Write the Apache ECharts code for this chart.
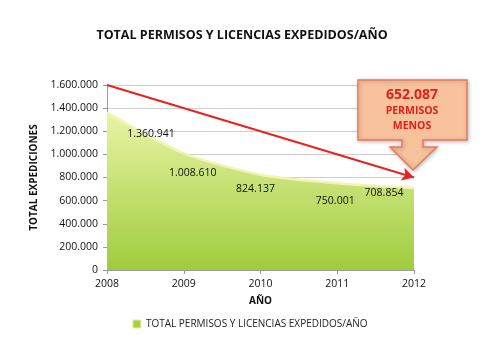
<!DOCTYPE html>
<html><head><meta charset="utf-8">
<script src="https://cdn.jsdelivr.net/npm/echarts@6/dist/echarts.min.js"></script>
<style>html,body{margin:0;padding:0;background:#fff}#c{width:500px;height:362px}</style>
</head><body><div id="c"></div>
<script>
const years = ['2008','2009','2010','2011','2012'];
const totals = [1360941, 1008610, 824137, 750001, 708854];
const yTicks = [0, 200000, 400000, 600000, 800000, 1000000, 1200000, 1400000, 1600000];
const trendStart = ['2008', 1600000];
const trendEnd = ['2012', 800000];
const calloutValue = '652.087';
const calloutLines = ['PERMISOS', 'MENOS'];
const seriesName = 'TOTAL PERMISOS Y LICENCIAS EXPEDIDOS/AÑO';

const fmt = v => String(v).replace(/\B(?=(\d{3})+(?!\d))/g, '.');
const labelOffsets = [[44, 21], [9, 20], [-5, 14], [-2, 18], [-30, 5]];
const FONT = '"Open Sans", "Liberation Sans", sans-serif';

const chart = echarts.init(document.getElementById('c'));
chart.setOption({
  animation: false,
  title: {
    text: seriesName, left: 237, top: 24, textAlign: 'center',
    textStyle: { fontFamily: FONT, fontSize: 12.5, fontWeight: 'bold', color: '#111' }
  },
  legend: {
    bottom: 28, left: 'center', itemWidth: 8, itemHeight: 8, itemGap: 4,
    icon: 'rect',
    textStyle: { fontFamily: FONT, fontSize: 10, color: '#222' },
    data: [{ name: seriesName, itemStyle: { color: '#a6cf4a', borderColor: '#e8f0a0', borderWidth: 1 } }]
  },
  grid: { left: 107, right: 86, top: 85, bottom: 92 },
  xAxis: {
    type: 'category', data: years, boundaryGap: false,
    name: 'AÑO', nameLocation: 'middle', nameGap: 26,
    nameTextStyle: { fontFamily: FONT, fontSize: 10, fontWeight: 'bold', color: '#111' },
    axisLine: { lineStyle: { color: '#9a9a9a' } },
    axisTick: { show: true, length: 4, lineStyle: { color: '#9a9a9a' } },
    axisLabel: { fontFamily: FONT, fontSize: 10.5, color: '#111', margin: 9 }
  },
  yAxis: {
    type: 'value', min: 0, max: 1600000, interval: 200000,
    name: 'TOTAL EXPEDICIONES', nameLocation: 'middle', nameGap: 57, nameRotate: 90,
    nameTextStyle: { fontFamily: FONT, fontSize: 10, fontWeight: 'bold', color: '#111' },
    axisLine: { show: true, lineStyle: { color: '#9a9a9a' } },
    axisTick: { show: true, length: 4, lineStyle: { color: '#9a9a9a' } },
    splitLine: { lineStyle: { color: '#cfcfcf' } },
    axisLabel: { fontFamily: FONT, fontSize: 10.5, color: '#111', margin: 9, formatter: v => fmt(v) }
  },
  series: [{
    name: seriesName, type: 'line', smooth: 0.25, symbol: 'circle', symbolSize: 0, showSymbol: true,
    data: totals.map((v, i) => ({
      value: v,
      label: { offset: labelOffsets[i] }
    })),
    label: {
      show: true, position: 'inside', formatter: p => fmt(p.value),
      fontFamily: FONT, fontSize: 10.5, color: '#111'
    },
    lineStyle: { color: '#f2f4b4', width: 2.5 },
    itemStyle: { color: '#a6cf4a' },
    areaStyle: {
      opacity: 1,
      color: new echarts.graphic.LinearGradient(0, 0, 0, 1, [
        { offset: 0, color: '#e8f4a4' },
        { offset: 1, color: '#9fcc3e' }
      ])
    },
    markLine: {
      silent: true, symbol: ['none', 'arrow'], symbolSize: [10, 12],
      lineStyle: { color: '#e8231f', width: 2, type: 'solid' },
      label: { show: false },
      data: [[{ coord: trendStart }, { coord: trendEnd }]]
    },
    z: 2
  }],
  graphic: [
    {
      type: 'polygon', z: 100,
      shape: { points: [[358, 80], [467, 80], [467, 140], [423, 140], [423, 147], [437, 147], [413, 170], [390, 147], [402, 147], [402, 140], [358, 140]] },
      style: { fill: '#f7c29c', stroke: '#e87a5c', lineWidth: 1.5,
        shadowBlur: 4, shadowColor: 'rgba(0,0,0,0.25)', shadowOffsetX: 1, shadowOffsetY: 1 }
    },
    {
      type: 'text', z: 101,
      style: { x: 412, y: 95, text: calloutValue, align: 'center', verticalAlign: 'middle',
        fill: '#e0201c', font: 'bold 14px ' + FONT }
    },
    {
      type: 'text', z: 101,
      style: { x: 412, y: 119, text: calloutLines.join('\n'), align: 'center', verticalAlign: 'middle',
        fill: '#e0201c', font: 'bold 10.5px ' + FONT, lineHeight: 15 }
    }
  ]
});
</script></body></html>
